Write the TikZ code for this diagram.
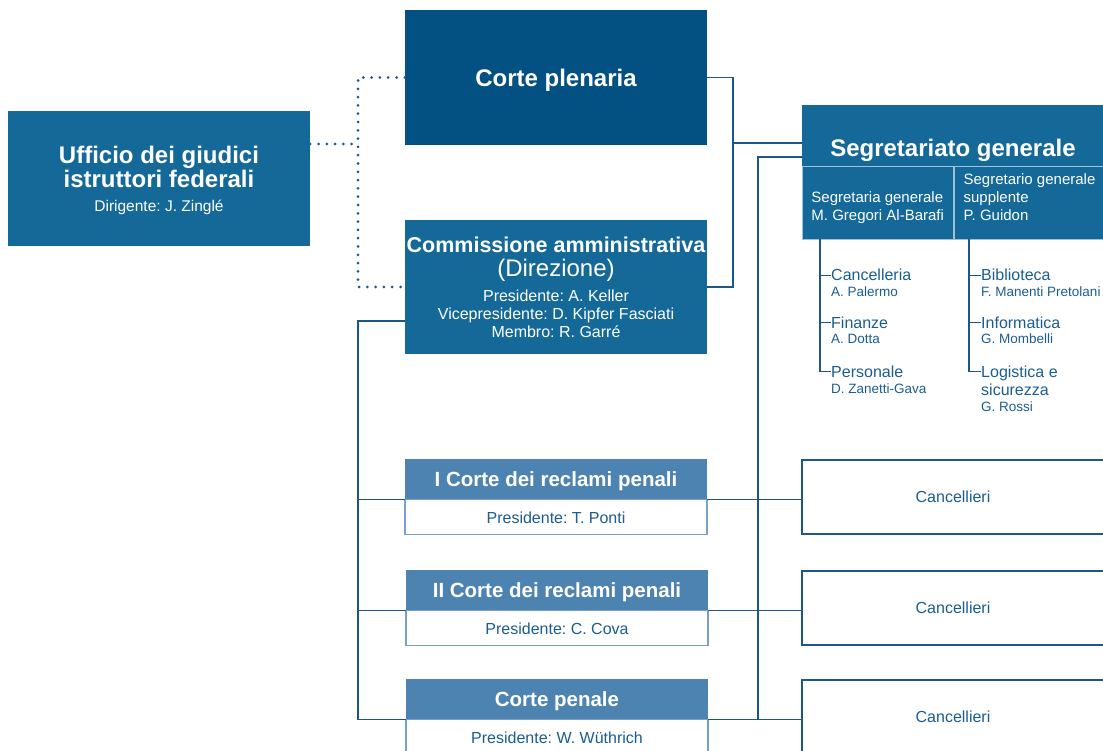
\documentclass[tikz,border=0pt]{standalone}
\usepackage{fontspec}
\setmainfont{Liberation Sans}
\usepackage{tikz}
\usetikzlibrary{calc,positioning}
\frenchspacing

\definecolor{plenblue}{RGB}{3,81,130}
\definecolor{boxblue}{RGB}{20,105,152}
\definecolor{headblue}{RGB}{76,131,176}
\definecolor{lineblue}{RGB}{27,88,136}
\definecolor{txtblue}{RGB}{26,93,145}
\definecolor{rimblue}{RGB}{120,160,200}
\definecolor{sepblue}{RGB}{160,192,218}

\tikzset{
	box/.style={rectangle, inner sep=0pt, minimum width=302pt, align=center, text=white},
	bigbox/.style={box, fill=boxblue, minimum height=135pt},
	courthead/.style={box, fill=headblue, minimum height=40pt, text depth=0pt, font=\fontsize{20.5}{22}\selectfont\bfseries},
	courtbody/.style={box, fill=white, draw=rimblue, line width=1.2pt, minimum height=35pt, text=txtblue, font=\fontsize{16}{18}\selectfont},
	cancbox/.style={box, fill=white, draw=lineblue, line width=1.5pt, minimum height=74pt, text=txtblue, font=\fontsize{16}{18}\selectfont},
	segrcell/.style={rectangle, inner sep=0pt, fill=boxblue, draw=sepblue, line width=0.8pt, minimum width=151pt, minimum height=73pt, align=left, text=white, text height=38pt, text depth=3pt, font=\fontsize{15}{18}\selectfont},
	unit/.style={anchor=base west, inner sep=0pt, text=txtblue, text height=11.5pt, text depth=0pt, font=\fontsize{16}{18}\selectfont},
	person/.style={anchor=base west, inner sep=0pt, text=txtblue, font=\fontsize{13.5}{16}\selectfont},
	link/.style={draw=lineblue, line width=1.4pt},
	dotlink/.style={draw=lineblue, line width=3pt, line cap=round, dash pattern=on 0pt off 8.3pt}
}

\begin{document}
\begin{tikzpicture}[x=1pt, y=-1pt]
			%%%%% START %%%%%
			\useasboundingbox (0,0) rectangle (1103,751);
			\clip (0,0) rectangle (1103,751);
			
			% left column
			\node[bigbox, text depth=0pt, font=\fontsize{24}{24}\selectfont] (ufficio) at (159,178.5)
				{\bfseries Ufficio dei giudici\\\bfseries istruttori federali\\\fontsize{15.5}{18}\selectfont Dirigente: J. Zinglé};
			
			% middle column
			\node[bigbox, fill=plenblue, text depth=0pt, font=\fontsize{24}{24}\selectfont\bfseries] (plenaria) at (556,77.5) {Corte plenaria};
			\node[bigbox, minimum height=134pt, font=\fontsize{16}{18}\selectfont] (commissione) at (556,287)
				{\fontsize{21.5}{24}\selectfont\bfseries Commissione amministrativa\\[6pt]
				\fontsize{24}{24}\selectfont (Direzione)\\[7pt]
				Presidente: A. Keller\\
				Vicepresidente: D. Kipfer Fasciati\\
				Membro: R. Garré};
			
			\node[courthead] (hdr1) at (556,479) {I Corte dei reclami penali};
			\node[courtbody, anchor=north] (body1) at (hdr1.south) {Presidente: T. Ponti};
			\node[courthead] (hdr2) at (557,590) {II Corte dei reclami penali};
			\node[courtbody, anchor=north] (body2) at (hdr2.south) {Presidente: C. Cova};
			\node[courthead] (hdr3) at (557,699) {Corte penale};
			\node[courtbody, anchor=north] (body3) at (hdr3.south) {Presidente: W. Wüthrich};
			
			% right column
			\node[box, fill=boxblue, minimum height=61pt, text height=42pt, text depth=0pt, font=\fontsize{24}{24}\selectfont\bfseries] (segrhead) at (953,135.5) {Segretariato generale};
			\node[segrcell, anchor=north west] (segrL) at (segrhead.south west) {Segretaria generale\\M. Gregori Al-Barafi};
			\node[segrcell, anchor=north west] (segrR) at (segrL.north east) {Segretario generale\\supplente\\P. Guidon};
			
			\node[cancbox] (canc1) at (953,497) {Cancellieri};
			\node[cancbox] (canc2) at (953,608) {Cancellieri};
			\node[cancbox] (canc3) at (953,717) {Cancellieri};
			
			% services
			\node[unit] (cancel) at (831,281) {Cancelleria};
			\node[person] (palermo) at (831,297) {A. Palermo};
			\node[unit] (finanze) at (831,328.5) {Finanze};
			\node[person] (dotta) at (831,344) {A. Dotta};
			\node[unit] (personale) at (831,377) {Personale};
			\node[person] (zanetti) at (831,393) {D. Zanetti-Gava};
			
			\node[unit] (biblio) at (981,281) {Biblioteca};
			\node[person] (manenti) at (981,297) {F. Manenti Pretolani};
			\node[unit] (inform) at (981,328.5) {Informatica};
			\node[person] (mombelli) at (981,344) {G. Mombelli};
			\node[unit] (logist) at (981,377) {Logistica e};
			\node[unit] (sicur) at (981,395.5) {sicurezza};
			\node[person] (rossi) at (981,411.5) {G. Rossi};
			
			% bus points
			\coordinate (dbus) at (358,144);
			\coordinate (pbus) at (733,143);
			\coordinate (sbus) at (758,157);
			\coordinate (lbus) at (358,321);
			\coordinate (lstL) at (820,239);
			\coordinate (lstR) at (969,239);
			
			% dotted links
			\draw[dotlink] (plenaria.west) -| (dbus) |- (commissione.west);
			\draw[dotlink] (ufficio.east |- dbus) -- (dbus);
			
			% solid links
			\draw[link] (plenaria.east) -| (pbus) |- (commissione.east);
			\draw[link] (pbus) -- (segrhead.west |- pbus);
			\draw[link] (segrhead.west |- sbus) -- (sbus) |- (hdr3.south east);
			\draw[link] (commissione.west |- lbus) -- (lbus) |- (hdr3.south west);
			\draw[link] (lbus |- hdr1.south west) -- (hdr1.south west);
			\draw[link] (lbus |- hdr2.south west) -- (hdr2.south west);
			
			\draw[link] (hdr1.south east) -- (canc1.west |- hdr1.south east);
			\draw[link] (hdr2.south east) -- (canc2.west |- hdr2.south east);
			\draw[link] (hdr3.south east) -- (canc3.west |- hdr3.south east);
			
			\draw[link, line width=1.2pt] (lstL) |- (personale.west);
			\draw[link, line width=1.2pt] (lstL |- cancel.west) -- (cancel.west);
			\draw[link, line width=1.2pt] (lstL |- finanze.west) -- (finanze.west);
			\draw[link, line width=1.2pt] (lstR) |- (logist.west);
			\draw[link, line width=1.2pt] (lstR |- biblio.west) -- (biblio.west);
			\draw[link, line width=1.2pt] (lstR |- inform.west) -- (inform.west);
			
			%%%%% END %%%%%
\end{tikzpicture}
\end{document}
